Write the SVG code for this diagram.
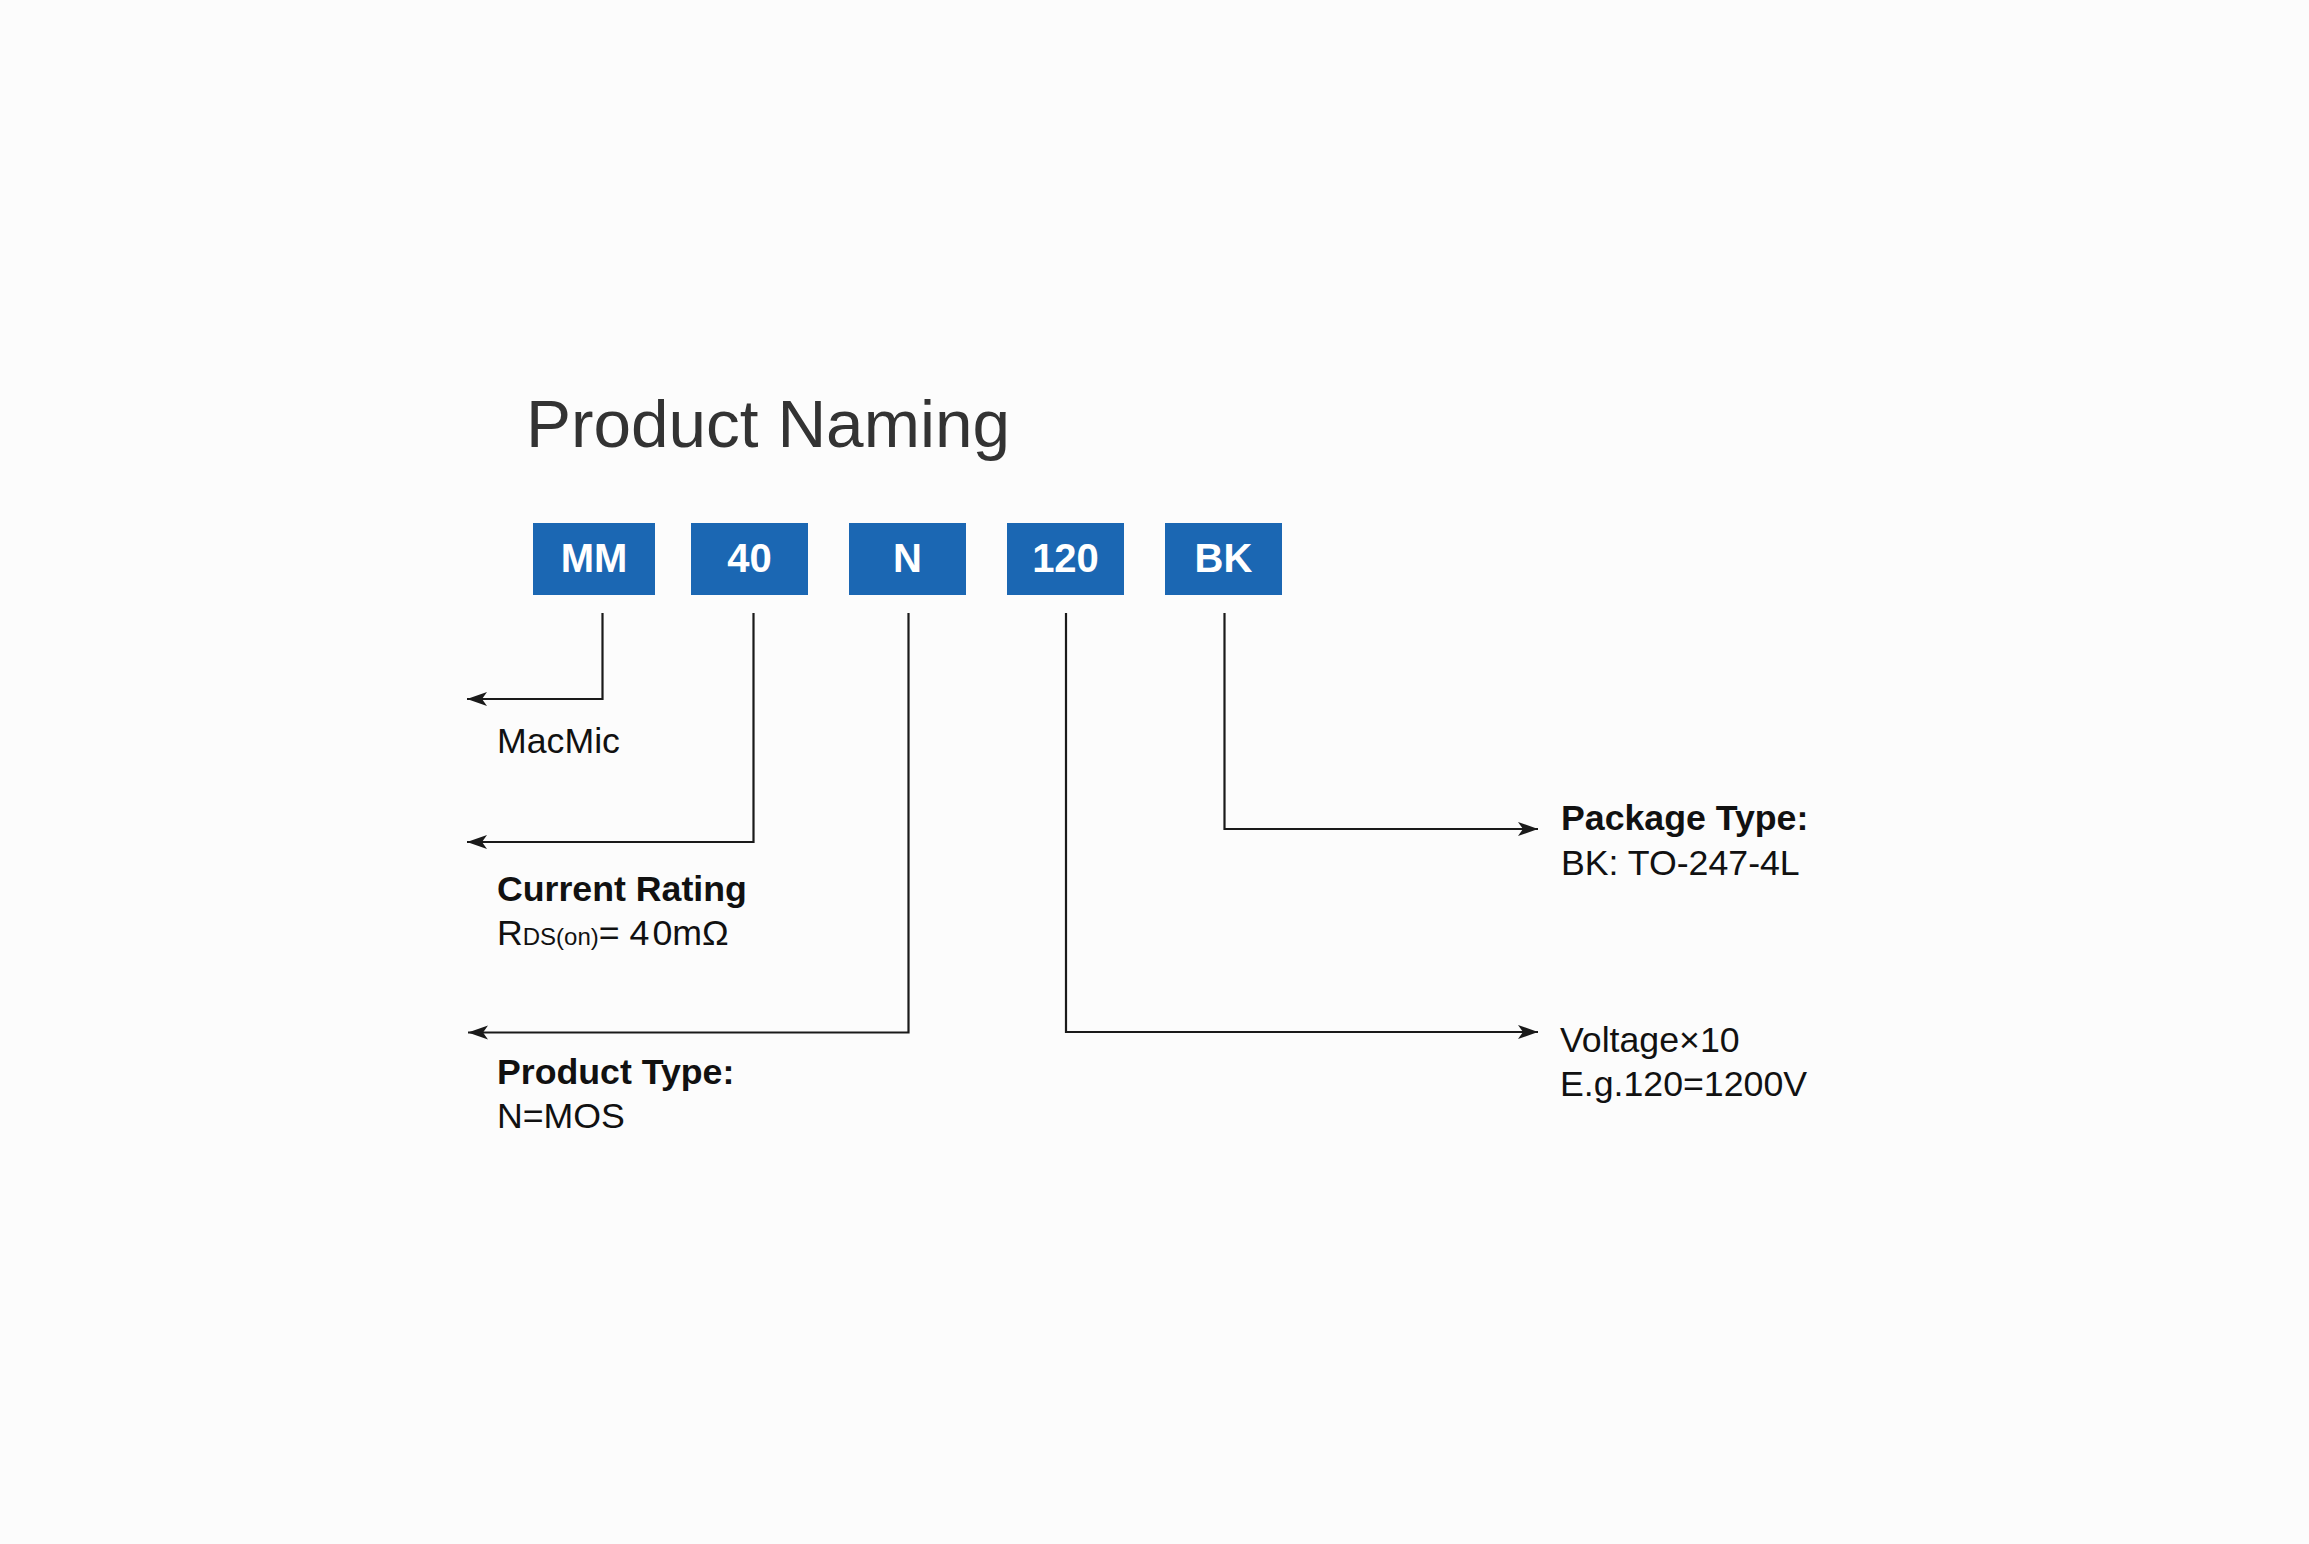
<svg xmlns="http://www.w3.org/2000/svg" width="2309" height="1544" viewBox="0 0 2309 1544">
<defs>
<style>
.box{fill:#1b67b3}
.bt{font-family:"Liberation Sans",Arial,sans-serif;font-weight:bold;font-size:40px;fill:#ffffff;text-anchor:middle}
.lbl{font-family:"Liberation Sans",Arial,sans-serif;font-size:35.7px;fill:#111111}
.b{font-weight:bold}
.con{fill:none;stroke:#1a1a1a;stroke-width:2.2}
</style>
<marker id="arr" markerUnits="userSpaceOnUse" markerWidth="24" markerHeight="20" viewBox="0 0 24 20" refX="22" refY="10" orient="auto">
<path d="M2,3 L22,10 L2,17 L7,10 Z" fill="#1a1a1a"/>
</marker>
</defs>
<rect width="2309" height="1544" fill="#fcfcfc"/>
<text x="526" y="447" font-family="'Liberation Sans',Arial,sans-serif" font-size="67.5" fill="#333333">Product Naming</text>
<g id="node-MM"><rect class="box" x="533" y="523" width="122" height="72"/><text class="bt" x="594" y="572">MM</text></g>
<g id="node-40"><rect class="box" x="691" y="523" width="117" height="72"/><text class="bt" x="749.5" y="572">40</text></g>
<g id="node-N"><rect class="box" x="849" y="523" width="117" height="72"/><text class="bt" x="907.5" y="572">N</text></g>
<g id="node-120"><rect class="box" x="1007" y="523" width="117" height="72"/><text class="bt" x="1065.5" y="572">120</text></g>
<g id="node-BK"><rect class="box" x="1165" y="523" width="117" height="72"/><text class="bt" x="1223.5" y="572">BK</text></g>
<g id="connectors">
<path class="con" d="M602.5,613 V699 H467" marker-end="url(#arr)"/>
<path class="con" d="M753.5,613 V842 H467" marker-end="url(#arr)"/>
<path class="con" d="M908.5,613 V1032.5 H468" marker-end="url(#arr)"/>
<path class="con" d="M1066,613 V1032 H1538" marker-end="url(#arr)"/>
<path class="con" d="M1224.5,613 V829 H1538" marker-end="url(#arr)"/>
</g>
<g id="label-macmic"><text class="lbl" x="497" y="753">MacMic</text></g>
<g id="label-current"><text class="lbl b" x="497" y="901">Current Rating</text>
<text class="lbl" x="497" y="945">R<tspan font-size="24">DS(on)</tspan>= 4<tspan dx="3">0mΩ</tspan></text></g>
<g id="label-type"><text class="lbl b" x="497" y="1084">Product Type:</text><text class="lbl" x="497" y="1128">N=MOS</text></g>
<g id="label-package"><text class="lbl b" x="1561" y="830">Package Type:</text><text class="lbl" x="1561" y="875">BK: TO-247-4L</text></g>
<g id="label-voltage"><text class="lbl" x="1560" y="1052">Voltage×10</text><text class="lbl" x="1560" y="1096">E.g.120=1200V</text></g>
</svg>
